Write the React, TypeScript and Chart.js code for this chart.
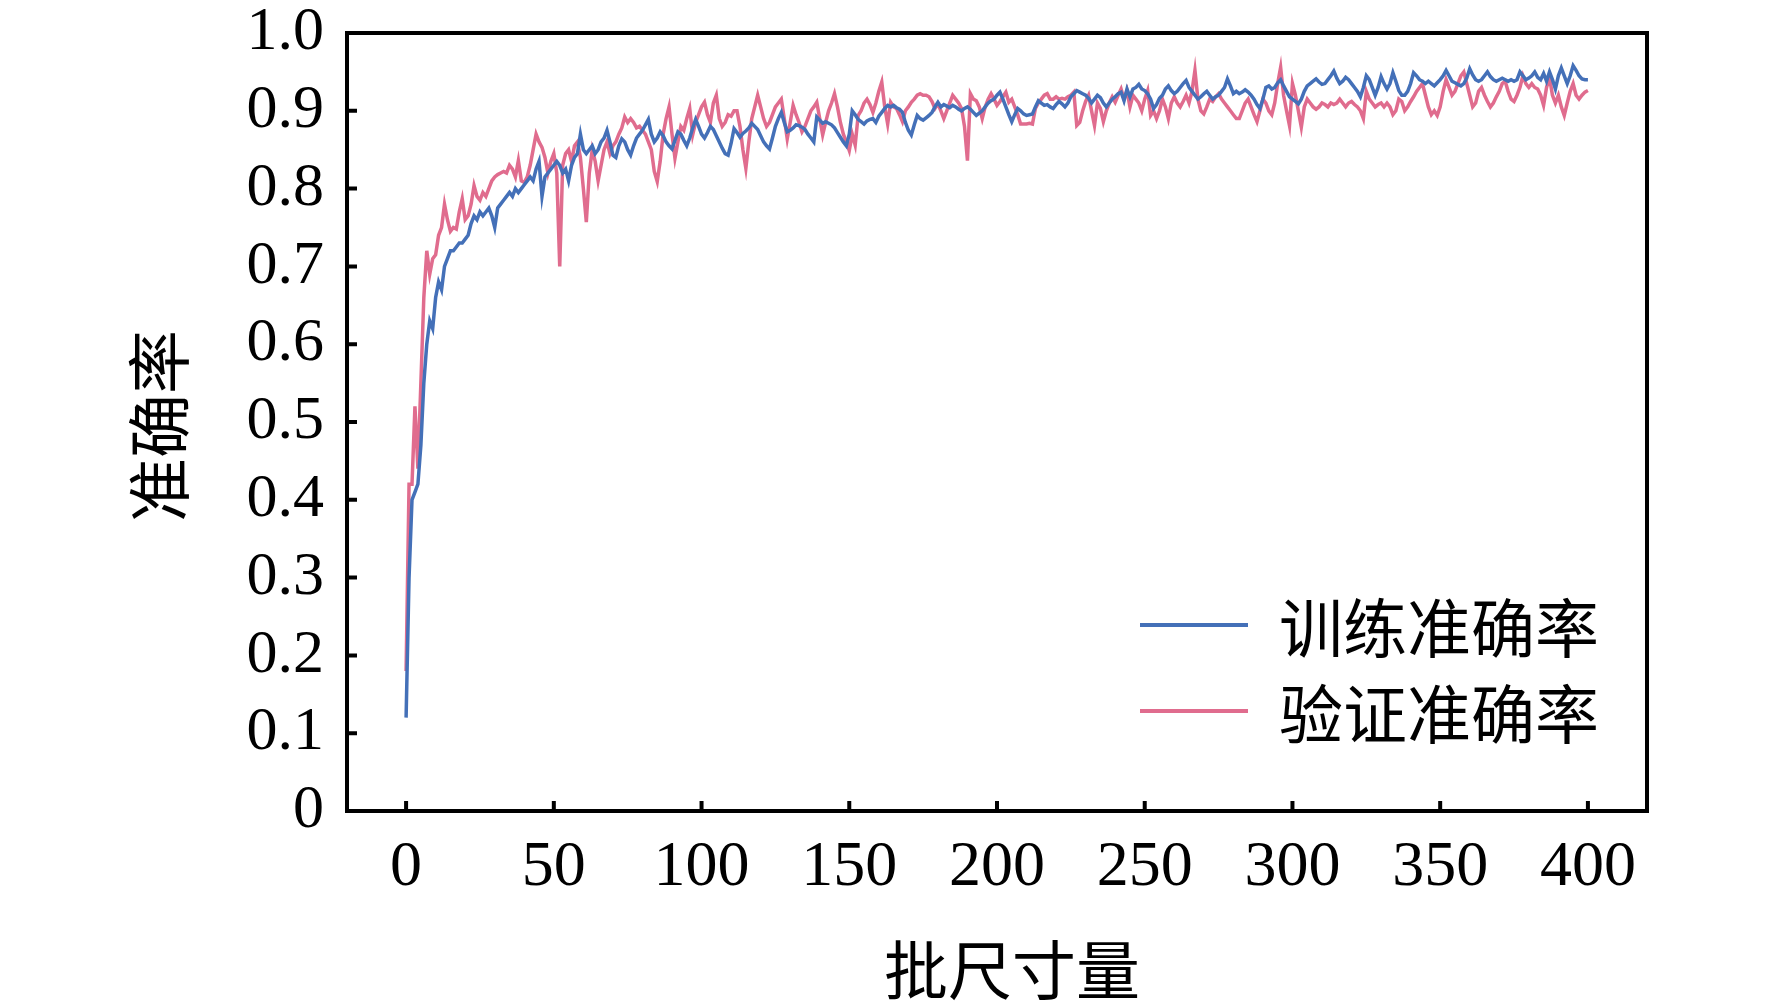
import React, { useEffect, useRef } from "react";
import { Chart, registerables } from "chart.js";

Chart.register(...registerables);

// x: 0..400
const steps = Array.from({ length: 401 }, (_, i) => i);

const trainAcc = [
  0.12, 0.3, 0.4, 0.41, 0.42, 0.47, 0.55, 0.6, 0.63, 0.62,
  0.66, 0.68, 0.67, 0.7, 0.71, 0.72, 0.72, 0.725, 0.73, 0.73,
  0.735, 0.74, 0.755, 0.765, 0.76, 0.77, 0.765, 0.77, 0.775, 0.765,
  0.75, 0.775, 0.78, 0.785, 0.79, 0.795, 0.79, 0.8, 0.795, 0.8,
  0.805, 0.81, 0.815, 0.81, 0.825, 0.835, 0.79, 0.815, 0.82, 0.825,
  0.83, 0.835, 0.83, 0.82, 0.825, 0.81, 0.83, 0.84, 0.845, 0.87,
  0.85, 0.845, 0.85, 0.855, 0.845, 0.85, 0.86, 0.865, 0.875, 0.86,
  0.843, 0.84, 0.855, 0.864, 0.86, 0.85, 0.843, 0.855, 0.865, 0.87,
  0.875, 0.882, 0.889, 0.87, 0.86, 0.865, 0.873, 0.868, 0.86, 0.855,
  0.851, 0.862, 0.873, 0.87, 0.862, 0.855, 0.865, 0.878, 0.889, 0.88,
  0.87, 0.865, 0.872, 0.88, 0.876, 0.868, 0.86, 0.852, 0.845, 0.843,
  0.858, 0.877, 0.872, 0.866, 0.871, 0.874, 0.878, 0.884, 0.88, 0.876,
  0.868, 0.86, 0.855, 0.851, 0.865, 0.88, 0.89, 0.898, 0.885, 0.873,
  0.875, 0.878, 0.882, 0.881, 0.879, 0.876, 0.87, 0.865, 0.86, 0.892,
  0.888, 0.884, 0.886, 0.884, 0.882, 0.878, 0.872, 0.866, 0.86, 0.855,
  0.87, 0.9, 0.895, 0.889, 0.886, 0.883, 0.887, 0.889, 0.89, 0.885,
  0.893, 0.898, 0.903, 0.907, 0.905, 0.907, 0.904, 0.902, 0.898, 0.885,
  0.875, 0.869, 0.882, 0.894, 0.89, 0.888, 0.891, 0.894, 0.898, 0.905,
  0.911, 0.905, 0.908, 0.906, 0.904, 0.907, 0.905, 0.902, 0.9, 0.903,
  0.905, 0.902, 0.898, 0.894, 0.897, 0.9, 0.905, 0.91, 0.913, 0.915,
  0.92, 0.924, 0.915, 0.905, 0.895, 0.886, 0.895, 0.903, 0.9, 0.896,
  0.894, 0.895, 0.896, 0.905, 0.913, 0.91, 0.907, 0.908, 0.905, 0.903,
  0.908, 0.912, 0.909, 0.905, 0.91, 0.918, 0.922, 0.926, 0.924, 0.922,
  0.92, 0.916, 0.91, 0.915, 0.92, 0.917, 0.91, 0.905, 0.91, 0.915,
  0.918, 0.922, 0.924, 0.913, 0.928, 0.918, 0.928, 0.93, 0.934, 0.928,
  0.926, 0.922, 0.915, 0.903, 0.908, 0.916, 0.92, 0.928, 0.932, 0.926,
  0.922, 0.925, 0.93, 0.935, 0.939, 0.93, 0.925, 0.92, 0.915, 0.918,
  0.922, 0.925, 0.92, 0.915, 0.918, 0.92, 0.925, 0.93, 0.941, 0.932,
  0.922, 0.925, 0.922, 0.924, 0.927, 0.924, 0.92, 0.915, 0.908, 0.903,
  0.915, 0.93, 0.932, 0.928, 0.93, 0.936, 0.94, 0.932, 0.925, 0.918,
  0.915, 0.912, 0.909, 0.915, 0.925, 0.932, 0.935, 0.938, 0.941, 0.937,
  0.934, 0.935, 0.94, 0.945, 0.951, 0.942, 0.935, 0.938, 0.943, 0.94,
  0.935, 0.93, 0.925, 0.918, 0.93, 0.945, 0.94, 0.93, 0.92, 0.93,
  0.944, 0.935, 0.928, 0.935, 0.949, 0.938, 0.926, 0.92, 0.92, 0.925,
  0.935, 0.949, 0.945, 0.94, 0.938, 0.935, 0.938, 0.935, 0.932, 0.936,
  0.94, 0.945, 0.952, 0.945, 0.938, 0.936, 0.934, 0.932, 0.935, 0.942,
  0.954, 0.946, 0.94, 0.938, 0.94, 0.945, 0.95, 0.944, 0.94, 0.938,
  0.94, 0.942, 0.94, 0.938, 0.94, 0.938, 0.94, 0.95, 0.945, 0.94,
  0.942, 0.945, 0.95, 0.943, 0.94, 0.948, 0.938, 0.95, 0.94, 0.928,
  0.945, 0.955, 0.945, 0.935, 0.945, 0.958, 0.952, 0.945, 0.941, 0.94,
  0.94,
];

const valAcc = [
  0.18, 0.42, 0.42, 0.52, 0.44, 0.55, 0.66, 0.72, 0.69, 0.71,
  0.715, 0.74, 0.75, 0.78, 0.76, 0.745, 0.75, 0.748, 0.77, 0.787,
  0.76, 0.765, 0.78, 0.804, 0.79, 0.785, 0.795, 0.79, 0.8, 0.81,
  0.815, 0.818, 0.82, 0.822, 0.82, 0.83, 0.825, 0.815, 0.836, 0.81,
  0.808, 0.815, 0.83, 0.85, 0.87, 0.86, 0.853, 0.84, 0.82, 0.835,
  0.845, 0.82, 0.7, 0.83, 0.845, 0.85, 0.835, 0.855, 0.86, 0.84,
  0.8, 0.757, 0.82, 0.85, 0.835, 0.81, 0.83, 0.85, 0.86, 0.845,
  0.855, 0.86, 0.87, 0.878, 0.892, 0.885, 0.89, 0.885, 0.878, 0.88,
  0.875, 0.87, 0.86, 0.85, 0.822, 0.809, 0.835, 0.87, 0.89, 0.905,
  0.87, 0.839, 0.86, 0.88, 0.875, 0.89, 0.903, 0.869, 0.885, 0.895,
  0.905, 0.911, 0.895, 0.885, 0.91, 0.92, 0.89, 0.88, 0.885, 0.895,
  0.893, 0.9, 0.9, 0.88, 0.85, 0.826, 0.86, 0.89, 0.905, 0.92,
  0.905, 0.89, 0.88, 0.885, 0.895, 0.905, 0.91, 0.915, 0.89, 0.864,
  0.885, 0.907, 0.895, 0.885, 0.873, 0.88, 0.89, 0.9, 0.905, 0.911,
  0.89, 0.869, 0.885, 0.9, 0.91, 0.922, 0.905, 0.885, 0.87, 0.86,
  0.849, 0.87, 0.856, 0.894, 0.9, 0.91, 0.915, 0.908, 0.898, 0.91,
  0.925, 0.937, 0.905, 0.883, 0.911, 0.905, 0.903, 0.895, 0.886, 0.9,
  0.905, 0.911, 0.915, 0.92, 0.922, 0.92, 0.92, 0.918, 0.912, 0.903,
  0.909, 0.9, 0.89, 0.9, 0.91, 0.92, 0.915, 0.91, 0.903, 0.88,
  0.836, 0.922, 0.915, 0.913, 0.905, 0.89, 0.905, 0.915, 0.922, 0.915,
  0.907, 0.912, 0.918, 0.924, 0.911, 0.915, 0.905, 0.895, 0.883, 0.883,
  0.883, 0.884, 0.883, 0.903, 0.91, 0.915, 0.92, 0.922, 0.915, 0.915,
  0.918, 0.915, 0.916, 0.915, 0.918, 0.92, 0.924, 0.881, 0.885, 0.9,
  0.912, 0.92, 0.9, 0.881, 0.91, 0.903, 0.886, 0.9, 0.91, 0.918,
  0.911, 0.92, 0.928, 0.915, 0.926, 0.905, 0.92, 0.915, 0.91, 0.9,
  0.915, 0.926, 0.894, 0.9, 0.89, 0.9, 0.915, 0.905, 0.89, 0.91,
  0.918, 0.91, 0.905, 0.912, 0.92, 0.91, 0.925, 0.952, 0.915, 0.9,
  0.896, 0.905, 0.915, 0.912, 0.918, 0.922, 0.915, 0.91, 0.905, 0.9,
  0.895, 0.89, 0.89, 0.9, 0.91, 0.915, 0.905, 0.895, 0.886, 0.9,
  0.915, 0.91, 0.9, 0.895, 0.91, 0.935, 0.956, 0.92, 0.9, 0.881,
  0.935, 0.92, 0.9, 0.879, 0.905, 0.915, 0.91, 0.905, 0.902, 0.905,
  0.91, 0.908, 0.905, 0.91, 0.908, 0.91, 0.915, 0.91, 0.905, 0.91,
  0.912, 0.908, 0.905, 0.9, 0.89, 0.925, 0.915, 0.91, 0.905, 0.908,
  0.91, 0.905, 0.91, 0.905, 0.895, 0.9, 0.915, 0.912, 0.9, 0.905,
  0.912, 0.918, 0.925, 0.93, 0.935, 0.92, 0.905, 0.895, 0.9, 0.894,
  0.905, 0.925, 0.94, 0.93, 0.92, 0.925, 0.935, 0.945, 0.95, 0.935,
  0.92, 0.905, 0.91, 0.925, 0.93, 0.92, 0.912, 0.905, 0.91, 0.918,
  0.925, 0.935, 0.938, 0.925, 0.915, 0.912, 0.92, 0.93, 0.945, 0.935,
  0.93, 0.935, 0.93, 0.928, 0.92, 0.907, 0.93, 0.943, 0.92, 0.91,
  0.92, 0.905, 0.894, 0.91, 0.925, 0.935, 0.92, 0.915, 0.92, 0.924,
  0.926,
];

const xTicks = [0, 50, 100, 150, 200, 250, 300, 350, 400];
const yTicks = [0, 0.1, 0.2, 0.3, 0.4, 0.5, 0.6, 0.7, 0.8, 0.9, 1.0];
const seriesNames = ["训练准确率", "验证准确率"];
const seriesColors = ["#4470B8", "#E06C8E"];
const xTitle = "批尺寸量";
const yTitle = "准确率";

const numFont = '"Liberation Serif", "Times New Roman", serif';
const cjkFont = '"Noto Sans CJK SC", sans-serif';

// frame, inward ticks, axis titles and legend
const framePlugin = {
  id: "frame",
  afterDraw(chart: any) {
    const { ctx, chartArea } = chart;
    const { left, right, top, bottom } = chartArea;
    const xs = chart.scales.x;
    const ys = chart.scales.y;
    ctx.save();
    ctx.strokeStyle = "#000";
    ctx.lineWidth = 4;
    ctx.strokeRect(left, top, right - left, bottom - top);

    ctx.lineWidth = 4;
    ctx.beginPath();
    xTicks.forEach((v) => {
      const px = xs.getPixelForValue(v);
      ctx.moveTo(px, bottom);
      ctx.lineTo(px, bottom - 10);
    });
    yTicks.forEach((v) => {
      const py = ys.getPixelForValue(v);
      ctx.moveTo(left, py);
      ctx.lineTo(left + 10, py);
    });
    ctx.stroke();

    ctx.fillStyle = "#000";
    ctx.font = `64px ${cjkFont}`;
    ctx.textAlign = "center";
    ctx.textBaseline = "middle";
    ctx.fillText(xTitle, 1012, 970);
    ctx.save();
    ctx.translate(159, 426);
    ctx.rotate(-Math.PI / 2);
    ctx.fillText(yTitle, 0, 0);
    ctx.restore();

    // legend
    ctx.textAlign = "left";
    chart.data.datasets.forEach((ds: any, i: number) => {
      const y = 625 + i * 86;
      ctx.strokeStyle = ds.borderColor;
      ctx.lineWidth = 4;
      ctx.beginPath();
      ctx.moveTo(1140, y);
      ctx.lineTo(1248, y);
      ctx.stroke();
      ctx.fillStyle = "#000";
      ctx.fillText(ds.label, 1279, y + 3);
    });
    ctx.restore();
  },
};

const AccuracyChart = () => {
  const chartRef: any = useRef(null);
  const chartInstance: any = useRef(null);

  useEffect(() => {
    if (chartRef.current) {
      const ctx = chartRef.current.getContext("2d");
      chartInstance.current = new Chart(ctx, {
        type: "line",
        data: {
          datasets: [trainAcc, valAcc].map((vals, i) => ({
            label: seriesNames[i],
            data: vals.map((v, j) => ({ x: steps[j], y: v })),
            borderColor: seriesColors[i],
            backgroundColor: seriesColors[i],
            borderWidth: 3.5,
            pointRadius: 0,
            tension: 0,
            fill: false,
          })),
        },
        options: {
          responsive: true,
          maintainAspectRatio: false,
          animation: false,
          devicePixelRatio: 1,
          layout: { padding: { left: 0, top: 33, right: 125, bottom: 0 } },
          plugins: {
            legend: { display: false },
            tooltip: { enabled: false },
          },
          scales: {
            x: {
              type: "linear",
              min: -20,
              max: 420,
              grid: { display: false, drawTicks: false },
              border: { display: false },
              ticks: {
                color: "#000",
                padding: 19,
                maxRotation: 0,
                autoSkip: false,
                font: { family: numFont, size: 64 },
              },
              afterBuildTicks: (scale: any) => {
                scale.ticks = xTicks.map((v) => ({ value: v }));
              },
              afterFit: (scale: any) => {
                scale.height = 196;
                scale.paddingLeft = 0;
                scale.paddingRight = 0;
              },
            },
            y: {
              min: 0,
              max: 1,
              grid: { display: false, drawTicks: false },
              border: { display: false },
              ticks: {
                color: "#000",
                padding: 23,
                autoSkip: false,
                font: { family: numFont, size: 62 },
                callback: (v: any) => (v === 0 ? "0" : Number(v).toFixed(1)),
              },
              afterBuildTicks: (scale: any) => {
                scale.ticks = yTicks.map((v) => ({ value: v }));
              },
              afterFit: (scale: any) => {
                scale.width = 347;
                scale.paddingTop = 0;
                scale.paddingBottom = 0;
              },
            },
          },
        },
        plugins: [framePlugin],
      });
    }

    return () => {
      if (chartInstance.current) {
        chartInstance.current.destroy();
      }
    };
  }, []);

  return (
    <div
      style={{
        position: "absolute",
        left: 0,
        top: 0,
        width: 1772,
        height: 1007,
        background: "#fff",
      }}
    >
      <canvas ref={chartRef}></canvas>
    </div>
  );
};

export default AccuracyChart;
